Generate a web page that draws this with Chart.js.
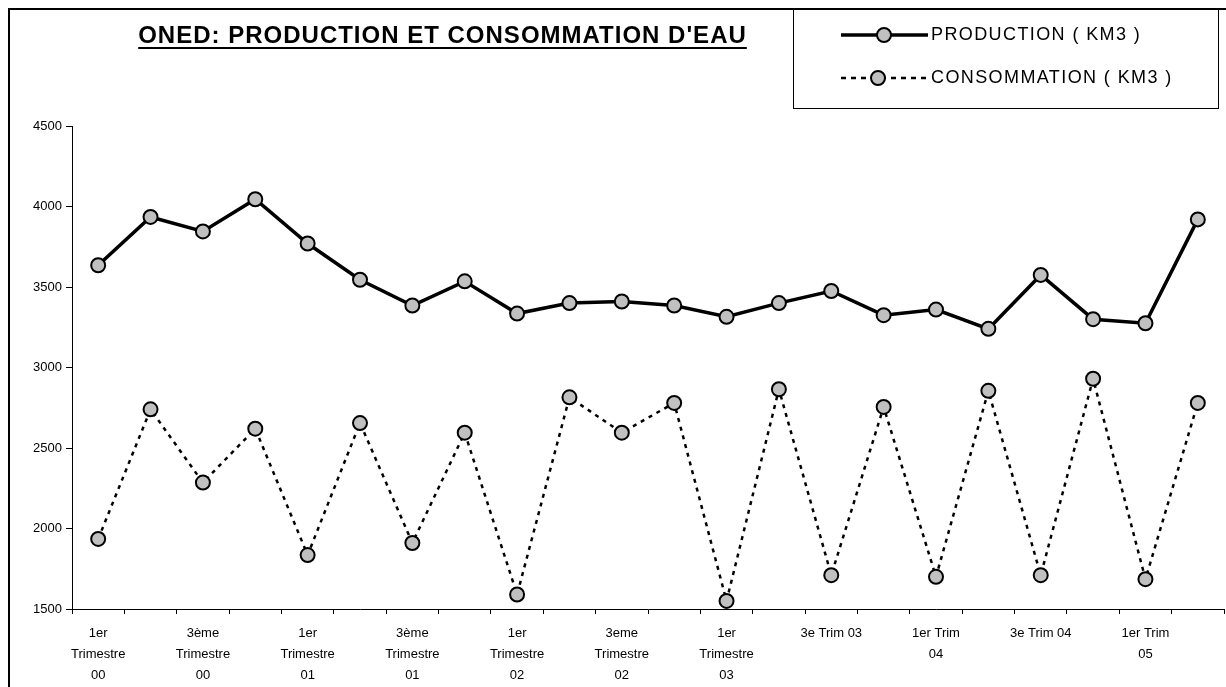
<!DOCTYPE html>
<html>
<head>
<meta charset="utf-8">
<script src="https://cdn.jsdelivr.net/npm/chart.js@4.4.0/dist/chart.umd.min.js"></script>
<style>
  body { margin: 0; background: #fff; font-family: "Liberation Sans", Arial, sans-serif; }
  #wrap { position: relative; width: 1226px; height: 687px; overflow: hidden; }
  #frame { position: absolute; left: 8px; top: 8px; width: 1300px; height: 800px; border-left: 2px solid #000; border-top: 2px solid #000; }
  #title { position: absolute; left: 0; width: 885px; top: 21px; text-align: center; font-weight: bold; font-size: 24px; letter-spacing: 1px;
           text-decoration: underline; text-decoration-thickness: 2px; text-underline-offset: 4px; color: #000; }
  #legend { position: absolute; left: 793px; top: 8px; width: 424px; height: 98px; border: 1px solid #000; border-top: 2px solid #000; background: #fff; }
  .item { position: absolute; left: 0; height: 30px; width: 424px; }
  .item svg { position: absolute; left: 44px; top: 0; }
  .item span { position: absolute; left: 137px; top: 4px; font-size: 18px; letter-spacing: 1.4px; color: #000; white-space: nowrap; }
  canvas { position: absolute; left: 0; top: 0; }
</style>
</head>
<body>
<div id="wrap">
  <canvas id="myChart" width="1233" height="687"></canvas>
  <div id="frame"></div>
  <div id="title">ONED: PRODUCTION ET CONSOMMATION D'EAU</div>
  <div id="legend">
    <div class="item" style="top:10px">
      <svg width="92" height="30"><line x1="3" y1="15" x2="90" y2="15" stroke="#000" stroke-width="3.5"/><circle cx="46" cy="15" r="7" fill="#c0c0c0" stroke="#000" stroke-width="2"/></svg>
      <span>PRODUCTION ( KM3 )</span>
    </div>
    <div class="item" style="top:53px">
      <svg width="92" height="30"><line x1="3" y1="15" x2="90" y2="15" stroke="#000" stroke-width="2.5" stroke-dasharray="5 5"/><circle cx="40" cy="15" r="7" fill="#c0c0c0" stroke="#000" stroke-width="2"/></svg>
      <span>CONSOMMATION ( KM3 )</span>
    </div>
  </div>
</div>
<script>
var labels = [["1er","Trimestre","00"], "", ["3ème","Trimestre","00"], "", ["1er","Trimestre","01"], "",
  ["3ème","Trimestre","01"], "", ["1er","Trimestre","02"], "", ["3eme","Trimestre","02"], "",
  ["1er","Trimestre","03"], "", "3e Trim 03", "", ["1er Trim","04"], "", "3e Trim 04", "", ["1er Trim","05"], ""];

var production = [3635, 3935, 3845, 4045, 3770, 3545, 3385, 3535, 3335, 3400, 3410,
  3385, 3315, 3400, 3475, 3325, 3360, 3240, 3575, 3300, 3275, 3920];

var consommation = [1935, 2740, 2285, 2620, 1835, 2655, 1910, 2595, 1590, 2815, 2595,
  2780, 1550, 2865, 1710, 2755, 1700, 2855, 1710, 2930, 1685, 2780];

var yTicks = [1500, 2000, 2500, 3000, 3500, 4000, 4500];

var ctx = document.getElementById("myChart").getContext("2d");
var myChart = new Chart(ctx, {
  type: "line",
  data: {
    labels: labels,
    datasets: [{
      label: "PRODUCTION ( KM3 )",
      data: production,
      borderColor: "#000",
      borderWidth: 3.5,
      pointRadius: 7,
      pointBackgroundColor: "#c0c0c0",
      pointBorderColor: "#000",
      pointBorderWidth: 2,
      tension: 0,
      clip: false
    }, {
      label: "CONSOMMATION ( KM3 )",
      data: consommation,
      borderColor: "#000",
      borderWidth: 2.5,
      borderDash: [4, 5],
      pointRadius: 7,
      pointBackgroundColor: "#c0c0c0",
      pointBorderColor: "#000",
      pointBorderWidth: 2,
      tension: 0,
      clip: false
    }]
  },
  options: {
    responsive: false,
    animation: false,
    events: [],
    layout: { padding: { top: 126, right: 2, left: 0, bottom: 0 } },
    plugins: { legend: { display: false }, title: { display: false }, tooltip: { enabled: false } },
    scales: {
      x: {
        offset: true,
        grid: { offset: true, drawOnChartArea: false, tickLength: 5, color: "#000" },
        border: { color: "#000", width: 1 },
        ticks: { autoSkip: false, maxRotation: 0, minRotation: 0, color: "#000", padding: 9,
                 font: { family: "Liberation Sans", size: 13, lineHeight: 1.6 } },
        afterFit: function(scale) { scale.height = 78; }
      },
      y: {
        min: 1500, max: 4500,
        afterBuildTicks: function(scale) { scale.ticks = yTicks.map(function(v) { return { value: v }; }); },
        grid: { drawOnChartArea: false, tickLength: 6, color: "#000" },
        border: { color: "#000", width: 1 },
        ticks: { color: "#000", padding: 4, font: { family: "Liberation Sans", size: 13 },
                 callback: function(v) { return String(v); } },
        afterFit: function(scale) { scale.width = 72; }
      }
    }
  }
});
</script>
</body>
</html>
